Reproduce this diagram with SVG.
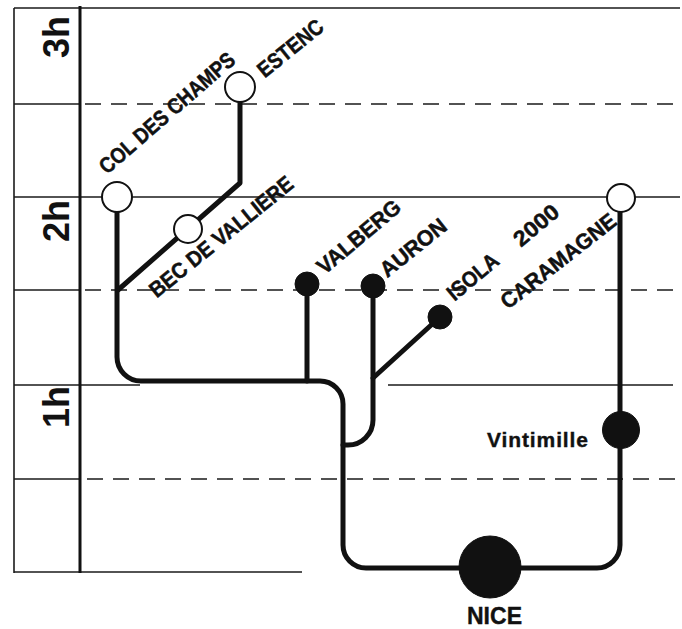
<svg xmlns="http://www.w3.org/2000/svg" width="682" height="629" viewBox="0 0 682 629">
<style>
.grid{stroke:#1a1a1a;stroke-width:1.6;fill:none}
.dash{stroke:#1a1a1a;stroke-width:1.6;fill:none;stroke-dasharray:16 10}
.axis{stroke:#111;stroke-width:3;fill:none}
.route{stroke:#111;stroke-width:5;fill:none;stroke-linecap:round;stroke-linejoin:round}
.open{fill:#fff;stroke:#111;stroke-width:2}
.dot{fill:#111;stroke:#111;stroke-width:1}
.lbl{font-family:"Liberation Sans",Arial,sans-serif;font-weight:bold;font-size:22px;fill:#111;stroke:#111;stroke-width:0.5;text-anchor:middle}
.txt{font-family:"Liberation Sans",Arial,sans-serif;font-weight:bold;fill:#111;stroke:#111;stroke-width:0.4}
.hour{font-family:"Liberation Sans",Arial,sans-serif;font-weight:bold;font-size:36px;fill:#111;text-anchor:middle}
</style>
<rect width="682" height="629" fill="#fff"/>
<g id="grid">
<line class="grid" x1="14" y1="8" x2="680" y2="8"/>
<line class="grid" x1="14" y1="8" x2="14" y2="573"/>
<line class="grid" x1="14" y1="104" x2="80" y2="104"/>
<line class="dash" x1="85" y1="104" x2="680" y2="104"/>
<line class="grid" x1="14" y1="197" x2="680" y2="197"/>
<line class="grid" x1="14" y1="290" x2="80" y2="290"/>
<line class="dash" x1="85" y1="290" x2="680" y2="290"/>
<line class="grid" x1="14" y1="385" x2="140" y2="385"/>
<line class="grid" x1="388" y1="385" x2="673" y2="385"/>
<line class="grid" x1="14" y1="479" x2="80" y2="479"/>
<line class="dash" x1="87" y1="479" x2="680" y2="479"/>
<line class="grid" x1="14" y1="572" x2="302" y2="572"/>
<line class="axis" x1="80" y1="6" x2="80" y2="573"/>
<text class="hour" transform="translate(69,37) rotate(-90)">3h</text>
<text class="hour" transform="translate(69,221) rotate(-90)">2h</text>
<text class="hour" transform="translate(69,407) rotate(-90)">1h</text>
</g>
<g id="connectors">
<path class="route" d="M117,212 V357 A24,24 0 0 0 141,381 H320 A23,23 0 0 1 343,404 V545 A23,23 0 0 0 366,568 H597 A23,23 0 0 0 620,545 V212"/>
<path class="route" d="M240,102 V183 L118,290"/>
<path class="route" d="M307,284 V381"/>
<path class="route" d="M373,287 V420 A25,25 0 0 1 348,445 H343"/>
<path class="route" d="M440,317 L373,378"/>
</g>
<g id="col-des-champs">
<circle class="open" cx="117" cy="197" r="15"/>
<text class="lbl" textLength="172" lengthAdjust="spacingAndGlyphs" transform="translate(172,118.5) rotate(-41)">COL DES CHAMPS</text>
</g>
<g id="estenc">
<circle class="open" cx="240" cy="87" r="15"/>
<text class="lbl" textLength="78" lengthAdjust="spacingAndGlyphs" transform="translate(295,54) rotate(-39)">ESTENC</text>
</g>
<g id="bec-de-valliere">
<circle class="open" cx="188" cy="229" r="14"/>
<text class="lbl" textLength="178" lengthAdjust="spacingAndGlyphs" transform="translate(226,242.5) rotate(-39)">BEC DE VALLIERE</text>
</g>
<g id="valberg">
<circle class="dot" cx="307" cy="284" r="12"/>
<text class="lbl" textLength="102" lengthAdjust="spacingAndGlyphs" transform="translate(363.5,242.5) rotate(-40)">VALBERG</text>
</g>
<g id="auron">
<circle class="dot" cx="373" cy="286" r="12"/>
<text class="lbl" textLength="79" lengthAdjust="spacingAndGlyphs" transform="translate(418,253.5) rotate(-39)">AURON</text>
</g>
<g id="isola">
<circle class="dot" cx="440" cy="317" r="12"/>
<text class="lbl" textLength="60" lengthAdjust="spacingAndGlyphs" transform="translate(477.6,282.5) rotate(-40)">ISOLA</text>
<text class="lbl" textLength="52" lengthAdjust="spacingAndGlyphs" transform="translate(541,231) rotate(-40)">2000</text>
</g>
<g id="caramagne">
<circle class="open" cx="621" cy="198" r="14"/>
<text class="lbl" textLength="140" lengthAdjust="spacingAndGlyphs" transform="translate(563,267) rotate(-38)">CARAMAGNE</text>
</g>
<g id="vintimille">
<circle class="dot" cx="621" cy="430" r="18.5"/>
<text class="txt" style="font-size:21px" x="487" y="447" textLength="101" lengthAdjust="spacing">Vintimille</text>
</g>
<g id="nice">
<circle class="dot" cx="490" cy="567" r="31"/>
<text class="txt" style="font-size:24px" x="467" y="624" textLength="55" lengthAdjust="spacingAndGlyphs">NICE</text>
</g>
</svg>
